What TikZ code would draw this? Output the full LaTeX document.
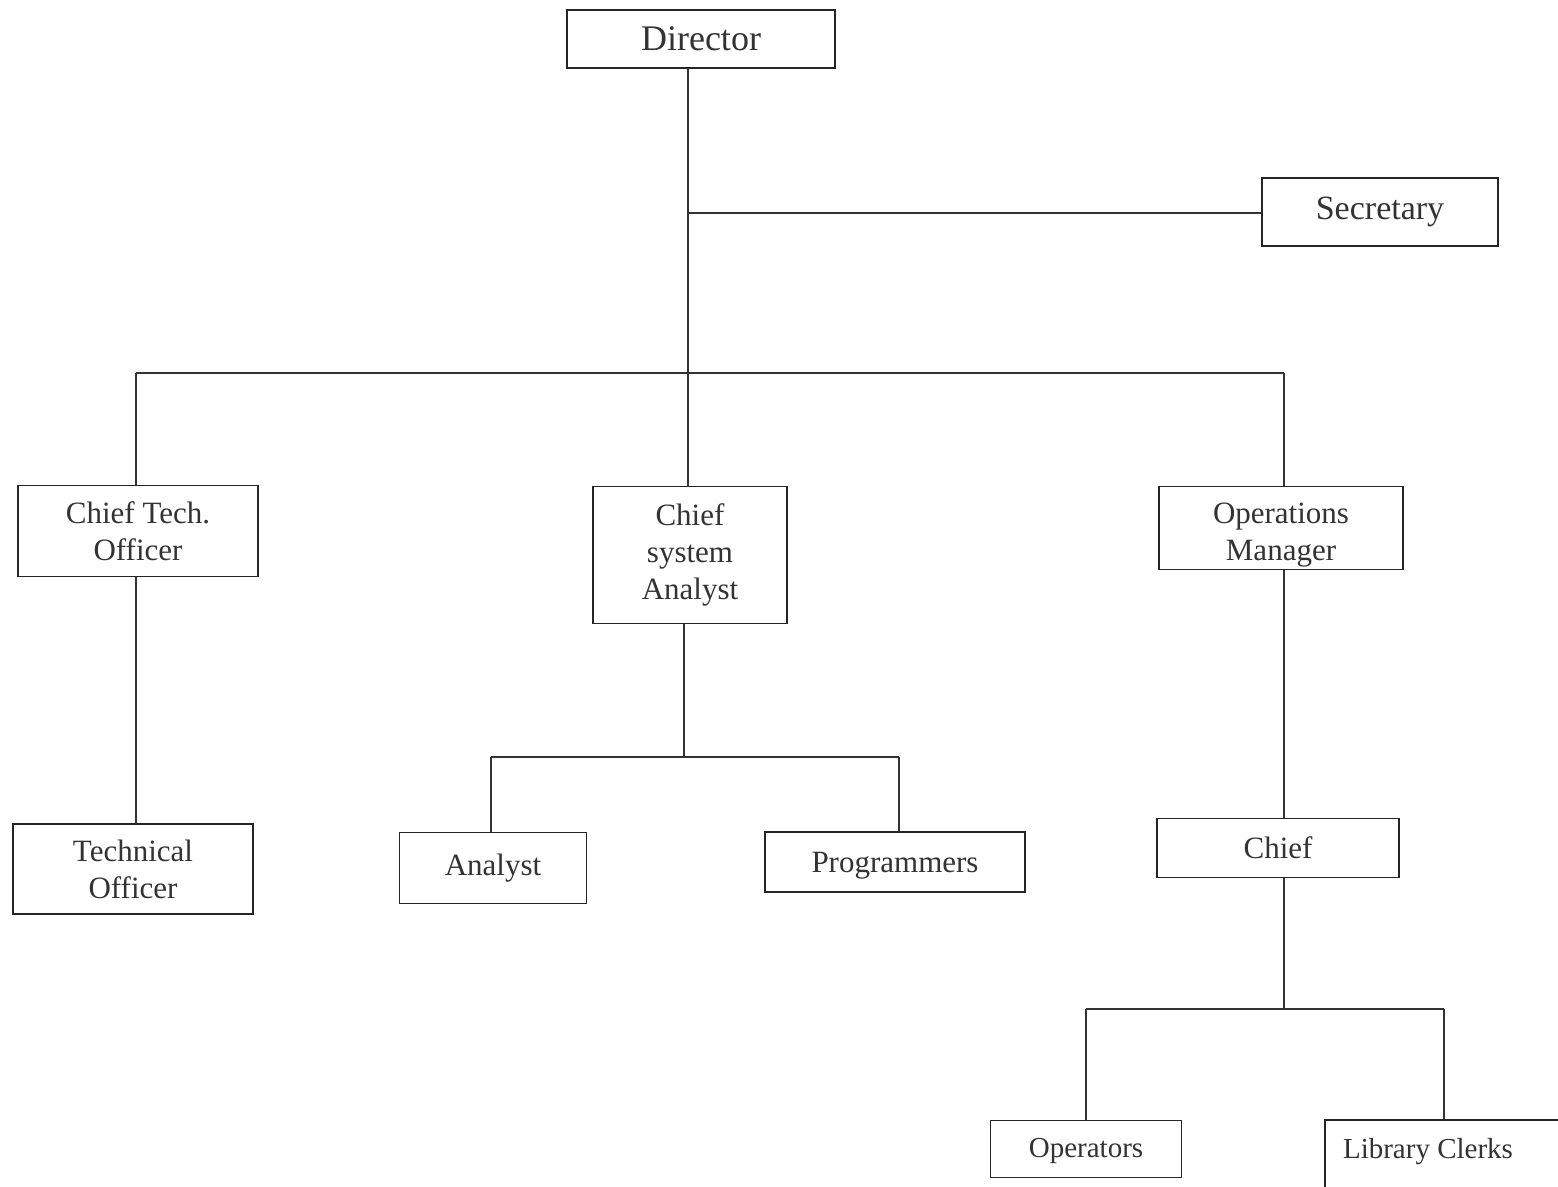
\documentclass[tikz,border=0pt]{standalone}
\usepackage{fontspec}
\setmainfont{Liberation Serif}
\newcommand{\vshifttext}[2]{\raisebox{#1}[\height][\depth]{\begin{tabular}{@{}c@{}}#2\end{tabular}}}
\begin{document}
\begin{tikzpicture}[x=1pt,y=-1pt,
  box/.style={draw=black!85, line width=1.6pt, rectangle, inner sep=0pt, align=center,
              font=\fontsize{31}{37}\selectfont, text=black!80},
  conn/.style={draw=black!80, line width=1.3pt}]
\useasboundingbox[fill=white] (0,0) rectangle (1558,1186);

% boxes
\node[box, minimum width=268pt, minimum height=58pt, font=\fontsize{36}{40}\selectfont] (dir) at (701,39) {Director};
\node[box, minimum width=236pt, minimum height=68pt, font=\fontsize{34}{40}\selectfont] (sec) at (1380,212) {Secretary};
\node[box, minimum width=240pt, minimum height=91pt] (cto) at (138,531) {Chief Tech.\\Officer};
\node[box, minimum width=194pt, minimum height=137pt] (csa) at (690,555) {Chief\\system\\Analyst};
\node[box, minimum width=244pt, minimum height=83pt] (ops) at (1281,528) {\vshifttext{-7pt}{Operations\\Manager}};
\node[box, minimum width=240pt, minimum height=90pt] (teo) at (133,869) {Technical\\Officer};
\node[box, minimum width=187pt, minimum height=71pt] (ana) at (493,868) {Analyst};
\node[box, minimum width=260pt, minimum height=60pt] (prg) at (895,862) {\vshifttext{-3pt}{Programmers}};
\node[box, minimum width=242pt, minimum height=59pt] (chf) at (1278,848) {Chief};
\node[box, minimum width=191pt, minimum height=57pt, font=\fontsize{29}{34}\selectfont] (opr) at (1086,1149) {\vshifttext{-2pt}{Operators}};
\node[box, minimum width=250pt, minimum height=70pt, font=\fontsize{29}{34}\selectfont] (lib) at (1450,1155) {\vshifttext{3pt}{Library Clerks\hspace*{44pt}}};

% junction coordinates
\coordinate (jsec) at (688,213);
\coordinate (jbus) at (688,373);
\coordinate (busL) at (136,373);
\coordinate (busR) at (1284,373);
\coordinate (jcsa) at (684,757);
\coordinate (csaL) at (491,757);
\coordinate (csaR) at (899,757);
\coordinate (jchf) at (1284,1009);
\coordinate (chfL) at (1086,1009);
\coordinate (chfR) at (1444,1009);

% connectors
\draw[conn] (dir.south -| jsec) -- (jsec) -- (jbus);
\draw[conn] (jsec) -- (sec.west |- jsec);
\draw[conn] (busL) -- (busR);
\draw[conn] (busL) -- (cto.north -| busL);
\draw[conn] (jbus) -- (csa.north -| jbus);
\draw[conn] (busR) -- (ops.north -| busR);
\draw[conn] (cto.south -| busL) -- (teo.north -| busL);
\draw[conn] (csa.south -| jcsa) -- (jcsa);
\draw[conn] (csaL) -- (csaR);
\draw[conn] (csaL) -- (ana.north -| csaL);
\draw[conn] (csaR) -- (prg.north -| csaR);
\draw[conn] (ops.south -| busR) -- (chf.north -| busR);
\draw[conn] (chf.south -| jchf) -- (jchf);
\draw[conn] (chfL) -- (chfR);
\draw[conn] (chfL) -- (opr.north -| chfL);
\draw[conn] (chfR) -- (lib.north -| chfR);
\end{tikzpicture}
\end{document}
